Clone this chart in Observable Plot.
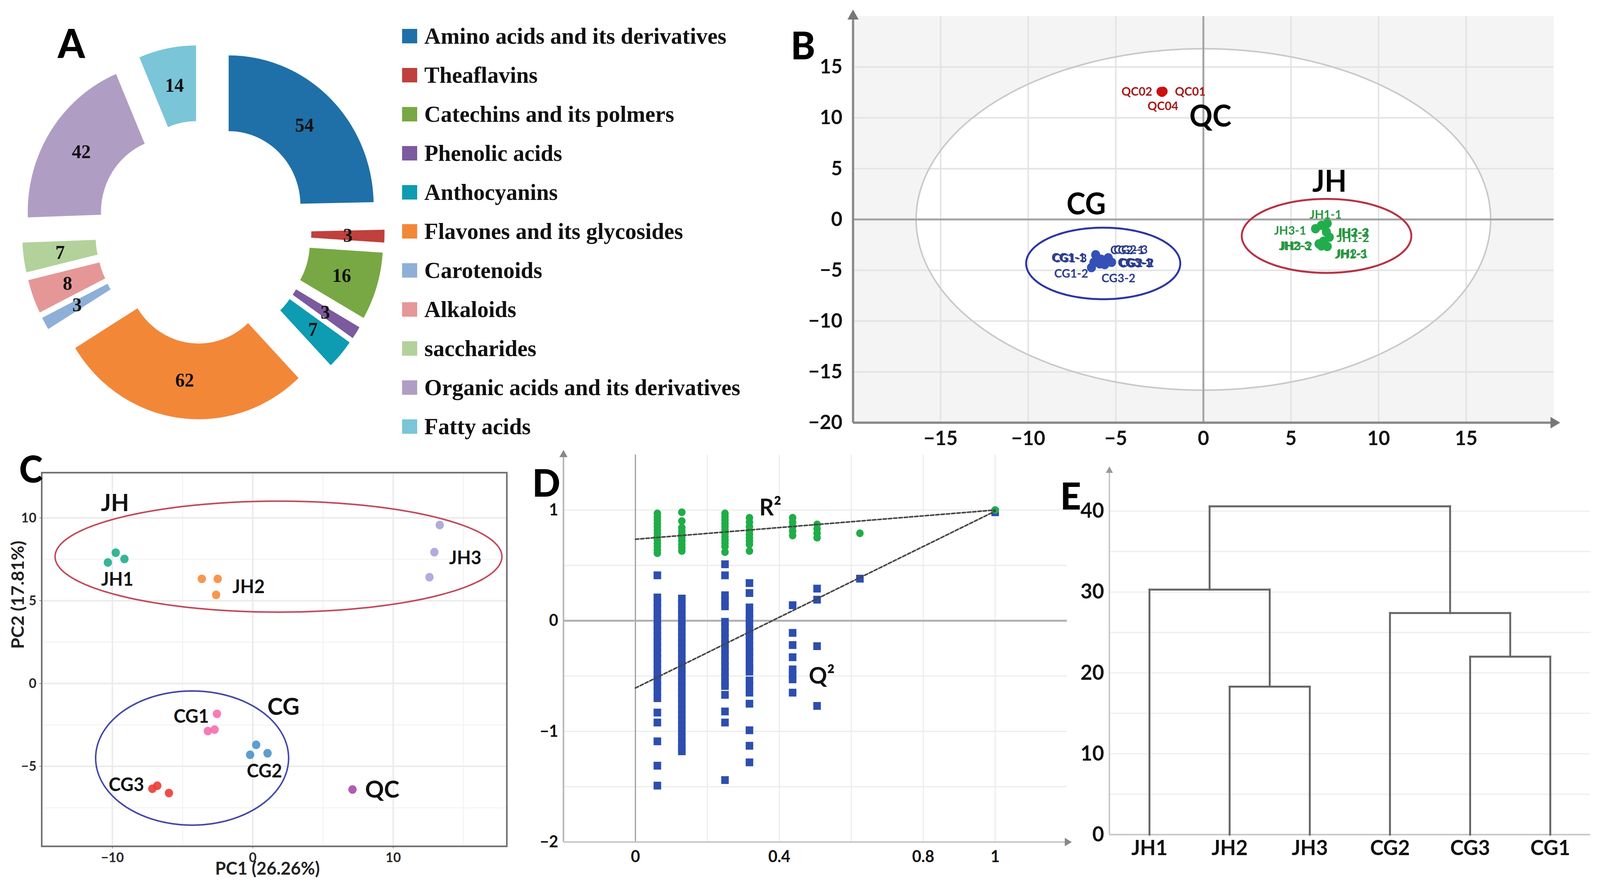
<!DOCTYPE html>
<html>
<head>
<meta charset="utf-8">
<script src="https://cdn.jsdelivr.net/npm/d3@7"></script>
<script src="https://cdn.jsdelivr.net/npm/@observablehq/plot@0.6"></script>
<style>
  html, body { margin: 0; padding: 0; background: #fff; overflow: hidden; }
  #root { position: relative; width: 4238px; height: 2287px; overflow: hidden; background: #fff; transform-origin: 0 0; }
  #root > svg, #root > figure { position: absolute; margin: 0; }
</style>
</head>
<body>
<div id="root"></div>
<script>
// ---------------- DATA ----------------
// Panel A: metabolite classes
const classNames = ["Amino acids and its derivatives", "Theaflavins", "Catechins and its polmers", "Phenolic acids",
  "Anthocyanins", "Flavones and its glycosides", "Carotenoids", "Alkaloids", "saccharides",
  "Organic acids and its derivatives", "Fatty acids"];
const classCounts = [54, 3, 16, 3, 7, 62, 3, 8, 7, 42, 14];
const classColors = ["#1f70a9", "#c0403d", "#78a843", "#7c5a9e", "#0e9cb2", "#f28738", "#8eafd8", "#e59797", "#b3d19a", "#b09dc4", "#7ac5d8"];

// Panel B: score plot with sample labels
const bSample = ["QC01", "QC02", "QC04",
  "CG1-1", "CG1-2", "CG1-3", "CG2-1", "CG2-2", "CG2-3", "CG3-1", "CG3-2", "CG3-3",
  "JH1-1", "JH1-2", "JH1-3", "JH2-1", "JH2-2", "JH2-3", "JH3-1", "JH3-2", "JH3-3"];
const bPC1 = [-2.30, -2.42, -2.36,
  -6.15, -6.39, -6.06, -5.43, -5.24, -5.82, -5.63, -5.91, -6.25,
  7.07, 7.02, 7.07, 6.74, 7.19, 6.86, 6.40, 6.60, 6.74];
const bPC2 = [12.60, 12.58, 12.52,
  -3.48, -4.74, -3.78, -3.78, -4.22, -3.93, -4.44, -4.37, -4.22,
  -0.39, -1.23, -2.66, -2.60, -1.75, -2.14, -0.91, -2.40, -0.58];
const bLabelX = [-0.75, -3.80, -2.31,
  -7.70, -7.55, -7.62, -4.35, -3.80, -4.15, -3.92, -4.85, -3.86,
  6.98, 8.55, 8.42, 8.48, 8.55, 5.22, 4.95, 5.30, 8.50];
const bLabelY = [12.55, 12.55, 11.15,
  -3.78, -5.33, -3.84, -3.04, -4.30, -3.00, -4.25, -5.80, -4.34,
  0.45, -1.84, -3.46, -3.40, -1.30, -2.62, -1.10, -2.66, -1.34];
const bT2Radius = [16.4, 16.8];
const bEllipseGroup = ["CG", "JH"];
const bEllipseCx = [-5.72, 7.03];
const bEllipseCy = [-4.33, -1.62];
const bEllipseRx = [4.40, 4.84];
const bEllipseRy = [3.52, 3.64];
const bGroupText = ["QC", "CG", "JH"];
const bGroupX = [0.40, -6.69, 7.20];
const bGroupY = [10.08, 1.42, 3.65];
const bXTicks = [-15, -10, -5, 0, 5, 10, 15];
const bYTicks = [-20, -15, -10, -5, 0, 5, 10, 15];

// Panel C: PCA
const cSample = ["JH1", "JH1", "JH1", "JH2", "JH2", "JH2", "JH3", "JH3", "JH3",
  "CG1", "CG1", "CG1", "CG2", "CG2", "CG2", "CG3", "CG3", "CG3", "QC"];
const cPC1 = [-10.32, -9.76, -9.14, -3.63, -2.50, -2.61, 13.31, 12.93, 12.58,
  -2.55, -3.20, -2.72, 0.24, -0.19, 1.05, -7.15, -6.80, -5.97, 7.10];
const cPC2 = [7.31, 7.90, 7.52, 6.32, 6.32, 5.35, 9.57, 7.93, 6.42,
  -1.83, -2.87, -2.78, -3.70, -4.30, -4.21, -6.35, -6.17, -6.61, -6.40];
const cGroups = ["JH1", "JH2", "JH3", "CG1", "CG2", "CG3", "QC"];
const cGroupColors = ["#1fae8c", "#f78b3c", "#a7a4d8", "#f76db0", "#4a93c9", "#ee3a36", "#a54ea6"];
const cLabelText = ["JH1", "JH2", "JH3", "CG1", "CG2", "CG3"];
const cLabelX = [-9.65, -0.30, 15.13, -4.38, 0.83, -9.00];
const cLabelY = [6.26, 5.83, 7.57, -2.00, -5.30, -6.14];
const cBigText = ["JH", "CG", "QC"];
const cBigX = [-9.81, 2.18, 9.22];
const cBigY = [10.87, -1.43, -6.43];
const cEllipseGroup = ["JH", "CG"];
const cEllipseCx = [1.83, -4.32];
const cEllipseCy = [7.66, -4.50];
const cEllipseRx = [15.91, 6.87];
const cEllipseRy = [3.35, 4.05];
const cXTicks = [-10, 0, 10];
const cYTicks = [-5, 0, 5, 10];

// Panel D: permutation test
const r2Col = [0.061, 0.129, 0.249, 0.317, 0.437, 0.505, 0.624, 1.0];
const r2Values = [
  [0.97, 0.94, 0.91, 0.88, 0.85, 0.82, 0.79, 0.76, 0.73, 0.70, 0.67, 0.64, 0.61],
  [0.98, 0.90, 0.84, 0.81, 0.78, 0.75, 0.72, 0.69, 0.66, 0.63],
  [0.97, 0.94, 0.91, 0.88, 0.85, 0.82, 0.79, 0.76, 0.73, 0.70, 0.67, 0.62],
  [0.93, 0.89, 0.85, 0.81, 0.78, 0.75, 0.72, 0.69, 0.63],
  [0.93, 0.89, 0.85, 0.81, 0.77],
  [0.87, 0.83, 0.79, 0.75],
  [0.79],
  [1.0]
];
const q2Values = [
  [0.41, 0.21, 0.16, 0.11, 0.06, 0.01, -0.04, -0.09, -0.14, -0.19, -0.24, -0.29, -0.34, -0.39, -0.44, -0.49, -0.54, -0.59, -0.64, -0.70, -0.83, -0.92, -1.09, -1.31, -1.49],
  [0.20, 0.15, 0.10, 0.05, 0.00, -0.05, -0.10, -0.15, -0.20, -0.25, -0.30, -0.35, -0.40, -0.45, -0.50, -0.55, -0.60, -0.65, -0.70, -0.75, -0.80, -0.85, -0.90, -0.95, -1.00, -1.05, -1.10, -1.15, -1.18],
  [0.51, 0.41, 0.23, 0.18, 0.13, -0.01, -0.06, -0.11, -0.16, -0.21, -0.26, -0.31, -0.36, -0.41, -0.46, -0.51, -0.56, -0.59, -0.67, -0.82, -0.92, -1.44],
  [0.34, 0.25, 0.12, 0.07, 0.02, -0.03, -0.08, -0.13, -0.18, -0.23, -0.28, -0.33, -0.38, -0.43, -0.46, -0.54, -0.59, -0.65, -0.75, -0.99, -1.13, -1.28],
  [0.14, -0.11, -0.22, -0.33, -0.44, -0.49, -0.53, -0.65],
  [0.29, 0.19, -0.23, -0.77],
  [0.38],
  [0.98]
];
const dLineX = [0, 1];
const dR2Line = [0.736, 1.0];
const dQ2Line = [-0.608, 0.99];
const dXTicks = [0, 0.4, 0.8, 1];
const dYTicks = [-2, -1, 0, 1];

// Panel E: dendrogram
const dendroLeaves = ["JH1", "JH2", "JH3", "CG2", "CG3", "CG1"];
const mergeNames = ["JH2+JH3", "CG3+CG1", "CG", "JH", "all"];
const mergeLeft = ["JH2", "CG3", "CG2", "JH1", "JH"];
const mergeRight = ["JH3", "CG1", "CG3+CG1", "JH2+JH3", "CG"];
const mergeHeight = [18.3, 22.0, 27.4, 30.3, 40.6];
const eYTicks = [0, 10, 20, 30, 40];

// ---------------- HELPERS ----------------
const SANS = "Lato, 'Open Sans', 'Liberation Sans', sans-serif";
const SERIF = "'Liberation Serif', 'Times New Roman', serif";
const root = document.getElementById("root");
// fit the 4238x2287 design into the actual viewport
{
  const sx = (window.innerWidth || 4238) / 4238;
  const sy = (window.innerHeight || 2287) / 2287;
  root.style.transform = `scale(${sx}, ${sy})`;
}
function place(el, left, top) {
  el.style.position = "absolute";
  el.style.left = left + "px";
  el.style.top = top + "px";
  root.appendChild(el);
}
function ellipsePoints(group, cx, cy, rx, ry) {
  return d3.range(0, 361, 2).map(a => ({
    group, x: cx + rx * Math.cos(a * Math.PI / 180), y: cy + ry * Math.sin(a * Math.PI / 180)
  }));
}

// ---------------- PANEL A ----------------
{
  const R_OUT = 384, R_IN = 190, EXPLODE = 96, R_LABEL = 287;
  const total = d3.sum(classCounts);
  const cum = d3.cumsum(classCounts);
  const slices = classNames.map((name, i) => {
    const a0 = (cum[i] - classCounts[i]) / total * 2 * Math.PI;
    const a1 = cum[i] / total * 2 * Math.PI;
    return {name, value: classCounts[i], a0, a1, mid: (a0 + a1) / 2};
  });
  const ringPts = slices.flatMap(s => {
    const n = Math.max(6, Math.ceil((s.a1 - s.a0) * 80));
    const ox = EXPLODE * Math.sin(s.mid), oy = EXPLODE * Math.cos(s.mid);
    const angles = d3.range(n + 1).map(k => s.a0 + (s.a1 - s.a0) * k / n);
    const outer = angles.map(a => ({name: s.name, x: ox + R_OUT * Math.sin(a), y: oy + R_OUT * Math.cos(a)}));
    const inner = angles.slice().reverse().map(a => ({name: s.name, x: ox + R_IN * Math.sin(a), y: oy + R_IN * Math.cos(a)}));
    return outer.concat(inner);
  });
  const plotA = Plot.plot({
    width: 1060, height: 1130, margin: 0,
    x: {domain: [-538, 522], axis: null},
    y: {domain: [-536, 594], axis: null},
    color: {domain: classNames, range: classColors},
    style: {background: "transparent", overflow: "visible"},
    marks: [
      Plot.line(ringPts, {x: "x", y: "y", z: "name", fill: "name", stroke: "none"}),
      Plot.text(slices, {
        x: s => (EXPLODE + R_LABEL) * Math.sin(s.mid),
        y: s => (EXPLODE + R_LABEL) * Math.cos(s.mid),
        text: "value", fontFamily: SERIF, fontWeight: "bold", fontSize: 50, fill: "#111"
      })
    ]
  });
  place(plotA, 0, 0);

  // legend
  const legend = document.createElement("div");
  place(legend, 1065, 42);
  classNames.forEach((n, i) => {
    const row = document.createElement("div");
    row.style.cssText = "display:flex;align-items:center;height:100px;";
    const sw = document.createElement("div");
    sw.style.cssText = `width:40px;height:37px;background:${classColors[i]};margin-right:19px;flex:none;`;
    const tx = document.createElement("span");
    tx.textContent = n;
    tx.style.cssText = `font-family:${SERIF};font-weight:bold;font-size:60px;line-height:1;color:#111;white-space:nowrap;`;
    row.appendChild(sw); row.appendChild(tx);
    legend.appendChild(row);
  });
}

// ---------------- PANEL B ----------------
{
  const bData = bSample.map((s, i) => ({sample: s, group: s.slice(0, 2), x: bPC1[i], y: bPC2[i], lx: bLabelX[i], ly: bLabelY[i]}));
  const t2 = ellipsePoints("T2", 0, 0, bT2Radius[0], bT2Radius[1]);
  const groupEllipses = bEllipseGroup.flatMap((g, i) => ellipsePoints(g, bEllipseCx[i], bEllipseCy[i], bEllipseRx[i], bEllipseRy[i]));
  const grid = [-15, -10, -5, 5, 10, 15];
  const plotB = Plot.plot({
    width: 2130, height: 1150,
    marginLeft: 209, marginRight: 65, marginTop: 41, marginBottom: 68,
    x: {domain: [-20, 20], ticks: bXTicks, tickSize: 0, tickPadding: 21, label: null},
    y: {domain: [-20, 20], ticks: bYTicks, tickSize: 0, tickPadding: 28, label: null},
    color: {domain: ["QC", "CG", "JH"], range: ["#cc1010", "#3550b8", "#22ad4c"]},
    style: {fontFamily: SANS, fontSize: "52px", fontWeight: "bold", color: "#111", background: "transparent", overflow: "visible"},
    marks: [
      Plot.frame({fill: "#f4f4f4", stroke: "none"}),
      Plot.line(t2, {x: "x", y: "y", fill: "white", stroke: "none"}),
      Plot.ruleX(grid, {stroke: "#e4e4e4", strokeWidth: 4}),
      Plot.ruleY(grid, {stroke: "#e4e4e4", strokeWidth: 4}),
      Plot.line(t2, {x: "x", y: "y", stroke: "#c9c9c9", strokeWidth: 4}),
      Plot.ruleX([0], {stroke: "#a3a3a3", strokeWidth: 5}),
      Plot.ruleY([0], {stroke: "#a3a3a3", strokeWidth: 5}),
      Plot.ruleX([-20], {stroke: "#8a8a8a", strokeWidth: 6}),
      Plot.ruleY([-20], {stroke: "#8a8a8a", strokeWidth: 6}),
      Plot.dot([{x: -20, y: 20}], {x: "x", y: "y", symbol: "triangle", r: 11, fill: "#777", stroke: "none"}),
      Plot.dot([{x: 20, y: -20}], {x: "x", y: "y", symbol: "triangle", r: 11, fill: "#777", stroke: "none", rotate: 90}),
      Plot.line(groupEllipses, {x: "x", y: "y", z: "group", stroke: d => d.group === "CG" ? "#2e35a5" : "#b83245", strokeWidth: 5}),
      Plot.dot(bData, {x: "x", y: "y", fill: "group", r: 12, stroke: "none"}),
      Plot.text(bData, {x: "lx", y: "ly", text: "sample", fill: d => d.group === "QC" ? "#a51818" : d.group === "CG" ? "#2c3c8c" : "#27953f", fontSize: 31, fontWeight: "bold"}),
      Plot.text(bGroupText, {x: (d, i) => bGroupX[i], y: (d, i) => bGroupY[i], text: d => d, fontSize: 76, fontWeight: "bold", fill: "#000"})
    ]
  });
  place(plotB, 2050, 0);
}

// ---------------- PANEL C ----------------
{
  const cData = cSample.map((s, i) => ({group: s, x: cPC1[i], y: cPC2[i]}));
  const ell = cEllipseGroup.flatMap((g, i) => ellipsePoints(g, cEllipseCx[i], cEllipseCy[i], cEllipseRx[i], cEllipseRy[i]));
  const plotC = Plot.plot({
    width: 1380, height: 1157,
    marginLeft: 110, marginRight: 38, marginTop: 80, marginBottom: 120,
    x: {domain: [-15.03, 18.09], ticks: cXTicks, tickSize: 6, tickPadding: 10, label: null},
    y: {domain: [-9.83, 12.73], ticks: cYTicks, tickSize: 6, tickPadding: 8, label: null},
    color: {domain: cGroups, range: cGroupColors},
    style: {fontFamily: SANS, fontSize: "35px", fontWeight: "bold", color: "#2a2a2a", background: "transparent", overflow: "visible"},
    marks: [
      Plot.ruleX([-5, 5, 15], {stroke: "#f4f4f4", strokeWidth: 3}),
      Plot.ruleY([-7.5, -2.5, 2.5, 7.5], {stroke: "#f4f4f4", strokeWidth: 3}),
      Plot.ruleX(cXTicks, {stroke: "#ebebeb", strokeWidth: 4}),
      Plot.ruleY(cYTicks, {stroke: "#ebebeb", strokeWidth: 4}),
      Plot.line(ell, {x: "x", y: "y", z: "group", stroke: d => d.group === "JH" ? "#c24a5c" : "#4448a8", strokeWidth: 4}),
      Plot.dot(cData, {x: "x", y: "y", fill: "group", r: 11, fillOpacity: 0.9, stroke: "none"}),
      Plot.text(cLabelText, {x: (d, i) => cLabelX[i], y: (d, i) => cLabelY[i], text: d => d, fontSize: 48, fontWeight: "bold", fill: "#111"}),
      Plot.text(cBigText, {x: (d, i) => cBigX[i], y: (d, i) => cBigY[i], text: d => d, fontSize: 62, fontWeight: "bold", fill: "#111"}),
      Plot.frame({stroke: "#6a6a6a", strokeWidth: 4}),
      Plot.text(["PC1 (26.26%)"], {frameAnchor: "bottom", dy: 72, dx: -18, text: d => d, fontSize: 46, fontWeight: "bold", fill: "#222"}),
      Plot.text(["PC2 (17.81%)"], {frameAnchor: "left", dx: -62, dy: -27, rotate: -90, text: d => d, fontSize: 46, fontWeight: "bold", fill: "#222"})
    ]
  });
  place(plotC, 0, 1130);
}

// ---------------- PANEL D ----------------
{
  const r2Data = r2Col.flatMap((x, i) => r2Values[i].map(v => ({x, y: v})));
  const q2Data = r2Col.flatMap((x, i) => q2Values[i].map(v => ({x, y: v})));
  const lines = [
    ...dLineX.map((x, i) => ({k: "R2", x, y: dR2Line[i]})),
    ...dLineX.map((x, i) => ({k: "Q2", x, y: dQ2Line[i]}))
  ];
  const plotD = Plot.plot({
    width: 1460, height: 1157,
    marginLeft: 112, marginRight: 14, marginTop: 34, marginBottom: 131,
    x: {domain: [-0.2, 1.2], ticks: dXTicks, tickFormat: d3.format(""), tickSize: 0, tickPadding: 22, label: null},
    y: {domain: [-2, 1.5], ticks: dYTicks, tickFormat: d3.format(""), tickSize: 0, tickPadding: 14, label: null},
    style: {fontFamily: SANS, fontSize: "42px", fontWeight: "bold", color: "#111", background: "transparent", overflow: "visible"},
    marks: [
      Plot.ruleX([0.2, 0.4, 0.6, 0.8, 1.0], {stroke: "#ececec", strokeWidth: 3}),
      Plot.ruleY([1, 0.5, -0.5, -1, -1.5], {stroke: "#ececec", strokeWidth: 3}),
      Plot.ruleX([0], {stroke: "#9a9a9a", strokeWidth: 3}),
      Plot.ruleY([0], {stroke: "#b0b0b0", strokeWidth: 5}),
      Plot.ruleX([-0.2], {stroke: "#b5b5b5", strokeWidth: 4}),
      Plot.ruleY([-2], {stroke: "#c5c5c5", strokeWidth: 4}),
      Plot.dot([{x: -0.2, y: 1.5}], {x: "x", y: "y", symbol: "triangle", r: 8, fill: "#888", stroke: "none"}),
      Plot.dot([{x: 1.2, y: -2}], {x: "x", y: "y", symbol: "triangle", r: 8, fill: "#888", stroke: "none", rotate: 90}),
      Plot.dot(q2Data, {x: "x", y: "y", symbol: "square", r: 11.3, fill: "#2d4eb0", stroke: "none"}),
      Plot.dot(r2Data, {x: "x", y: "y", symbol: "circle", r: 10, fill: "#20ad48", stroke: "none"}),
      Plot.line(lines, {x: "x", y: "y", z: "k", stroke: "#454545", strokeWidth: 4, strokeDasharray: "9,5"}),
      Plot.text(["R²"], {x: 0.375, y: 1.02, text: d => d, fontSize: 60, fontWeight: "bold", fill: "#111"}),
      Plot.text(["Q²"], {x: 0.518, y: -0.50, text: d => d, fontSize: 60, fontWeight: "bold", fill: "#111"})
    ]
  });
  place(plotD, 1380, 1130);
}

// ---------------- PANEL E ----------------
{
  const nodePos = new Map(dendroLeaves.map((n, i) => [n, {x: i + 1, h: 0}]));
  const segs = [];
  mergeNames.forEach((m, i) => {
    const L = nodePos.get(mergeLeft[i]), R = nodePos.get(mergeRight[i]), h = mergeHeight[i];
    segs.push({x1: L.x, y1: L.h, x2: L.x, y2: h});
    segs.push({x1: R.x, y1: R.h, x2: R.x, y2: h});
    segs.push({x1: L.x, y1: h, x2: R.x, y2: h});
    nodePos.set(m, {x: (L.x + R.x) / 2, h});
  });
  const plotE = Plot.plot({
    width: 1458, height: 1137,
    marginLeft: 158, marginRight: 26, marginTop: 55, marginBottom: 150,
    x: {domain: [0.5, 6.5], ticks: [1, 2, 3, 4, 5, 6], tickFormat: i => dendroLeaves[i - 1], tickSize: 0, tickPadding: 14, label: null},
    y: {domain: [0, 45], ticks: eYTicks, tickSize: 0, tickPadding: 14, label: null},
    style: {fontFamily: SANS, fontSize: "54px", fontWeight: "bold", color: "#111", background: "transparent", overflow: "visible"},
    marks: [
      Plot.ruleY([5, 10, 15, 20, 25, 30, 35, 40], {stroke: "#eeeeee", strokeWidth: 3}),
      Plot.ruleY([0], {stroke: "#c8c8c8", strokeWidth: 4}),
      Plot.ruleX([0.5], {stroke: "#c8c8c8", strokeWidth: 4}),
      Plot.dot([{x: 0.5, y: 45}], {x: "x", y: "y", symbol: "triangle", r: 7, fill: "#999", stroke: "none"}),
      Plot.link(segs, {x1: "x1", y1: "y1", x2: "x2", y2: "y2", stroke: "#666", strokeWidth: 5, strokeLinecap: "square"})
    ]
  });
  place(plotE, 2780, 1150);
}

// ---------------- PANEL LETTERS ----------------
{
  const letters = ["A", "B", "C", "D", "E"];
  const letterX = [189, 2127, 82, 1447, 2836];
  const letterY = [112, 117, 1202, 1237, 1270];
  const letterSize = [103, 98, 95, 98, 96];
  const svg = d3.create("svg").attr("width", 4238).attr("height", 2287)
    .style("position", "absolute").style("left", "0px").style("top", "0px").style("pointer-events", "none");
  letters.forEach((L, i) => {
    svg.append("text").attr("x", letterX[i]).attr("y", letterY[i] + letterSize[i] * 0.36)
      .attr("text-anchor", "middle").attr("font-family", SANS).attr("font-weight", 900)
      .attr("font-size", letterSize[i]).attr("fill", "#000").text(L);
  });
  root.appendChild(svg.node());
}
</script>
</body>
</html>
